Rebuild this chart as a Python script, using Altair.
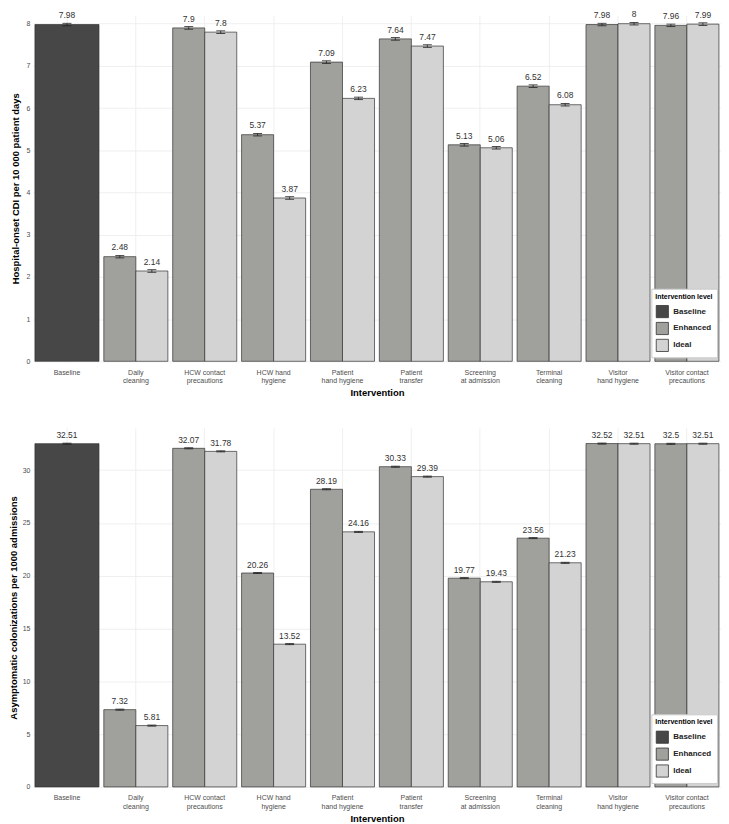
import altair as alt
import pandas as pd

interventions = ["Baseline", "Daily cleaning", "HCW contact precautions", "HCW hand hygiene",
                 "Patient hand hygiene", "Patient transfer", "Screening at admission",
                 "Terminal cleaning", "Visitor hand hygiene", "Visitor contact precautions"]
axis_labels = ["Baseline", "Daily|cleaning", "HCW contact|precautions", "HCW hand|hygiene",
               "Patient|hand hygiene", "Patient|transfer", "Screening|at admission",
               "Terminal|cleaning", "Visitor|hand hygiene", "Visitor contact|precautions"]
levels = ["Baseline", "Enhanced", "Ideal"]
colors = ["#474747", "#a0a09d", "#d3d3d3"]

# Hospital-onset CDI per 10 000 patient days
cdi_baseline = 7.98
cdi_enhanced = [2.48, 7.9, 5.37, 7.09, 7.64, 5.13, 6.52, 7.98, 7.96]
cdi_ideal = [2.14, 7.8, 3.87, 6.23, 7.47, 5.06, 6.08, 8.0, 7.99]
cdi_err = 0.03

# Asymptomatic colonizations per 1000 admissions
col_baseline = 32.51
col_enhanced = [7.32, 32.07, 20.26, 28.19, 30.33, 19.77, 23.56, 32.52, 32.5]
col_ideal = [5.81, 31.78, 13.52, 24.16, 29.39, 19.43, 21.23, 32.51, 32.51]
col_err = 0.05

label_map = dict(zip(interventions, axis_labels))
label_expr = "split(datum.label, '|')"
FONT = "Liberation Sans"


def build(baseline, enh, ideal, err):
    rows = [{"Intervention": "Baseline", "level": "Baseline", "value": baseline}]
    for name, e, i in zip(interventions[1:], enh, ideal):
        rows.append({"Intervention": name, "level": "Enhanced", "value": e})
        rows.append({"Intervention": name, "level": "Ideal", "value": i})
    df = pd.DataFrame(rows)
    df["lo"] = df["value"] - err
    df["hi"] = df["value"] + err
    df["lab"] = df["Intervention"].map(label_map)
    return df


def panel(df, ytitle, ymax, yvals, height):
    xenc = alt.X("lab:N", sort=axis_labels, title="Intervention",
                 scale=alt.Scale(paddingInner=0.07, paddingOuter=0.03),
                 axis=alt.Axis(labelExpr=label_expr, labelAngle=0, bandPosition=0.5,
                               labelPadding=7, titlePadding=4))
    yscale = alt.Scale(domain=[0, ymax], nice=False, zero=True)
    yenc = alt.Y("value:Q", title=ytitle, scale=yscale,
                 axis=alt.Axis(values=yvals,
                               labelExpr="datum.value % " + str(yvals[2]) + " == 0 ? datum.label : ''",
                               labelPadding=3, titlePadding=4))
    color = alt.Color("level:N", title="Intervention level",
                      scale=alt.Scale(domain=levels, range=colors),
                      legend=alt.Legend(orient="bottom-right", fillColor="white",
                                        strokeColor="#cccccc", padding=4, offset=4,
                                        symbolType="square", symbolSize=150,
                                        symbolStrokeColor="#333333", symbolStrokeWidth=0.8,
                                        symbolOpacity=1,
                                        titleFontSize=7, labelFontSize=8, labelFontWeight="bold",
                                        titleFont=FONT, labelFont=FONT, rowPadding=1,
                                        labelColor="#222222"))
    base_df = df[df["level"] == "Baseline"]
    oth_df = df[df["level"] != "Baseline"]

    bar_b = alt.Chart(base_df).mark_bar(stroke="#333333", strokeWidth=0.7).encode(
        x=xenc, y=yenc, color=color)
    bar_o = alt.Chart(oth_df).mark_bar(stroke="#333333", strokeWidth=0.7).encode(
        x=xenc, y=alt.Y("value:Q", scale=yscale), color=color,
        xOffset=alt.XOffset("level:N", sort=["Enhanced", "Ideal"]))

    def errs(d, off):
        enc = dict(x=xenc)
        if off:
            enc["xOffset"] = alt.XOffset("level:N", sort=["Enhanced", "Ideal"])
        r = alt.Chart(d).mark_rule(color="#222222", strokeWidth=0.8).encode(
            y=alt.Y("lo:Q", scale=yscale), y2="hi:Q", **enc)
        t1 = alt.Chart(d).mark_tick(color="#222222", thickness=0.8, size=9, opacity=1).encode(
            y=alt.Y("lo:Q", scale=yscale), **enc)
        t2 = alt.Chart(d).mark_tick(color="#222222", thickness=0.8, size=9, opacity=1).encode(
            y=alt.Y("hi:Q", scale=yscale), **enc)
        tx = alt.Chart(d).mark_text(baseline="bottom", dy=-3, fontSize=8.5, color="#333333",
                                    font=FONT).encode(
            y=alt.Y("hi:Q", scale=yscale), text="value:Q", **enc)
        return [r, t1, t2, tx]

    layers = [bar_b, bar_o] + errs(base_df, False) + errs(oth_df, True)
    return alt.layer(*layers).properties(width=692, height=height)


cdi = build(cdi_baseline, cdi_enhanced, cdi_ideal, cdi_err)
col = build(col_baseline, col_enhanced, col_ideal, col_err)

top = panel(cdi, "Hospital-onset CDI per 10 000 patient days", 8.2,
            [v / 2 for v in range(0, 17)], 348)
bottom = panel(col, "Asymptomatic colonizations per 1000 admissions", 34.0,
               [v * 2.5 for v in range(0, 14)], 361)

chart = alt.vconcat(top, bottom, spacing=31).resolve_scale(color="independent").properties(
    padding=0
).configure_view(stroke=None).configure_axis(
    grid=True, gridColor="#ebebeb", gridWidth=0.8, domain=False, ticks=False,
    labelColor="#4d4d4d", labelFontSize=7, labelFont=FONT,
    titleFont=FONT, titleFontSize=9.5, titleFontWeight="bold", titleColor="#000000",
    labelLineHeight=8.5
).configure_axisY(minExtent=8)

chart.save("out.html", embed_options={"renderer": "svg", "actions": False})
